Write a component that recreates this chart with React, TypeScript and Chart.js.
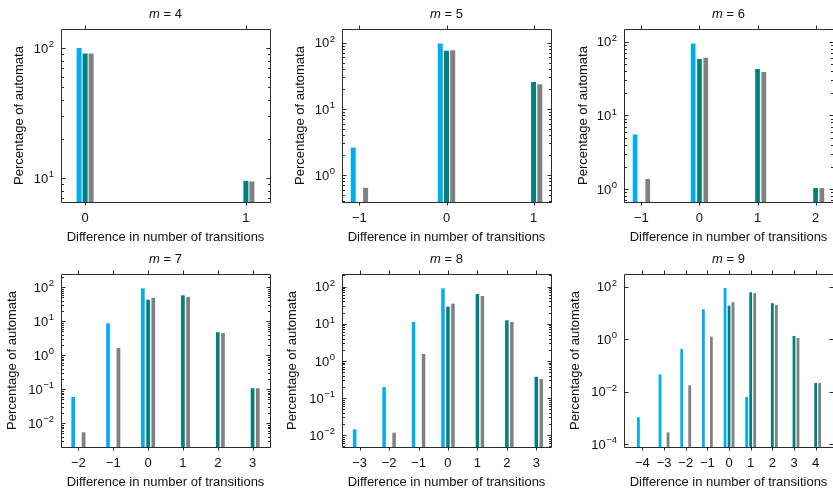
import React, { useEffect, useRef } from 'react';
import { Chart, registerables } from 'chart.js';

Chart.register(...registerables);

const FONT = "'Liberation Sans', Arial, sans-serif";
const CYAN = '#00AEEF';
const TEAL = '#008080';
const GRAY = '#808080';
const FRAME = '#2b2b2b';
const TEXT = '#111111';

// ---------- data (percentage of automata per difference in number of transitions) ----------
const diffs4 = [0, 1];
const cyan4 = [100, null];
const teal4 = [90.5, 9.5];
const gray4 = [90.5, 9.4];

const diffs5 = [-1, 0, 1];
const cyan5 = [2.6, 97.4, null];
const teal5 = [null, 75.5, 25.5];
const gray5 = [0.64, 77, 23.5];

const diffs6 = [-1, 0, 1, 2];
const cyan6 = [5.5, 94.5, null, null];
const teal6 = [null, 58, 42.5, 1.03];
const gray6 = [1.37, 60.5, 38.7, 1.03];

const diffs7 = [-2, -1, 0, 1, 2, 3];
const cyan7 = [0.059, 8.7, 93, null, null, null];
const teal7 = [null, null, 43, 58, 4.75, 0.107];
const gray7 = [0.0054, 1.64, 49.4, 52, 4.5, 0.107];

const diffs8 = [-3, -2, -1, 0, 1, 2, 3];
const cyan8 = [0.0143, 0.197, 11.2, 90, null, null, null];
const teal8 = [null, null, null, 28.9, 63.5, 12.4, 0.374];
const gray8 = [null, 0.0116, 1.53, 34.8, 56.1, 11.2, 0.324];

const diffs9 = [-4, -3, -2, -1, 0, 1, 2, 3, 4];
const cyan9 = [0.00105, 0.0455, 0.42, 13.7, 88, 0.0062, null, null, null];
const teal9 = [null, null, null, null, 18.8, 60.8, 23.3, 1.32, 0.0212];
const gray9 = [null, 0.00028, 0.0173, 1.24, 25.4, 55.7, 20, 1.1, 0.0212];

// y tick exponents (labelled decades)
const yExp4 = [1, 2];
const yExp5 = [0, 1, 2];
const yExp6 = [0, 1, 2];
const yExp7 = [-2, -1, 0, 1, 2];
const yExp8 = [-2, -1, 0, 1, 2];
const yExp9 = [-4, -2, 0, 2];

// ---------- layout ----------
const PW = 209; // plot width
const PH = 173; // plot height
const YAX = 60;
const TOPPAD = 29;
const RIGHTPAD = 20;
const XAX = 45;

type Val = number | null;
interface Panel {
  m: number;
  diffs: number[];
  cyan: Val[];
  teal: Val[];
  gray: Val[];
  yExp: number[];
  minor: boolean;
  xMin: number;
  xMax: number;
  yMin: number;
  yMax: number;
  left: number;
  top: number;
  yTitlePad: number;
  spacing: number;
  barW: number;
}

const panels: Panel[] = [
  { m: 4, diffs: diffs4, cyan: cyan4, teal: teal4, gray: gray4, yExp: yExp4, minor: true,
    xMin: -0.15, xMax: 1.15, yMin: Math.pow(10, 0.815), yMax: Math.pow(10, 2.146),
    left: 61, top: 29, yTitlePad: 10.2, spacing: 6, barW: 5 },
  { m: 5, diffs: diffs5, cyan: cyan5, teal: teal5, gray: gray5, yExp: yExp5, minor: true,
    xMin: -1.2, xMax: 1.2, yMin: Math.pow(10, -0.408), yMax: Math.pow(10, 2.207),
    left: 342, top: 29, yTitlePad: 10.2, spacing: 6.2, barW: 5 },
  { m: 6, diffs: diffs6, cyan: cyan6, teal: teal6, gray: gray6, yExp: yExp6, minor: true,
    xMin: -1.3, xMax: 2.3, yMin: Math.pow(10, -0.176), yMax: Math.pow(10, 2.172),
    left: 624, top: 29, yTitlePad: 12, spacing: 6.3, barW: 4.7 },
  { m: 7, diffs: diffs7, cyan: cyan7, teal: teal7, gray: gray7, yExp: yExp7, minor: true,
    xMin: -2.5, xMax: 3.5, yMin: Math.pow(10, -2.7), yMax: Math.pow(10, 2.39),
    left: 61, top: 274, yTitlePad: 3.2, spacing: 5.2, barW: 3.7 },
  { m: 8, diffs: diffs8, cyan: cyan8, teal: teal8, gray: gray8, yExp: yExp8, minor: true,
    xMin: -3.6, xMax: 3.5, yMin: Math.pow(10, -2.32), yMax: Math.pow(10, 2.34),
    left: 342, top: 274, yTitlePad: 2.2, spacing: 5, barW: 3.5 },
  { m: 9, diffs: diffs9, cyan: cyan9, teal: teal9, gray: gray9, yExp: yExp9, minor: false,
    xMin: -4.85, xMax: 4.8, yMin: Math.pow(10, -4.11), yMax: Math.pow(10, 2.48),
    left: 624, top: 274, yTitlePad: 3.2, spacing: 4, barW: 2.8 },
];

const numLabel = (v: number) => (v < 0 ? '\u2212' + String(-v) : String(v));

const toPoints = (xs: number[], ys: Val[]) =>
  xs.map((x, i) => ({ x, y: ys[i] })).filter((p) => p.y !== null) as { x: number; y: number }[];

const framePlugin = {
  id: 'frame',
  afterDatasetsDraw(chart: any, _args: any, opts: any) {
    const { ctx, chartArea: a } = chart;
    const xs = chart.scales.x;
    const ys = chart.scales.y;
    const px = (v: number) => Math.round(v) + 0.5;
    const L = px(a.left), R = px(a.right), T = px(a.top), B = px(a.bottom);
    ctx.save();
    ctx.strokeStyle = FRAME;
    ctx.lineWidth = 1;
    ctx.beginPath();
    ctx.rect(L, T, R - L, B - T);
    const lo = Math.floor(Math.log10(ys.min));
    const hi = Math.ceil(Math.log10(ys.max));
    for (let e = lo; e <= hi; e++) {
      for (let k = 1; k <= 9; k++) {
        const v = k * Math.pow(10, e);
        if (v < ys.min || v > ys.max) continue;
        let len = 0;
        if (k === 1) {
          if (!opts.yExp.includes(e)) continue;
          len = 4;
        } else {
          if (!opts.minor) continue;
          len = 2.5;
        }
        const y = px(ys.getPixelForValue(v));
        ctx.moveTo(L, y);
        ctx.lineTo(L + len, y);
        ctx.moveTo(R, y);
        ctx.lineTo(R - len, y);
      }
    }
    for (const t of opts.xTicks) {
      const x = px(xs.getPixelForValue(t));
      ctx.moveTo(x, T);
      ctx.lineTo(x, T - 4);
      ctx.moveTo(x, B);
      ctx.lineTo(x, B + 3);
    }
    ctx.stroke();

    // y tick labels: 10 with raised exponent
    const baseFont = `13px ${FONT}`;
    const expFont = `9.5px ${FONT}`;
    ctx.fillStyle = TEXT;
    ctx.textBaseline = 'alphabetic';
    ctx.textAlign = 'left';
    for (const t of ys.ticks) {
      const e = Math.round(Math.log10(t.value));
      const expStr = e < 0 ? '\u2212' + String(-e) : String(e);
      ctx.font = expFont;
      const we = ctx.measureText(expStr).width;
      ctx.font = baseFont;
      const wb = ctx.measureText('10').width;
      const right = a.left - 7;
      const y = ys.getPixelForValue(t.value);
      const xb = right - we - wb - 0.5;
      ctx.fillText('10', xb, y + 4.7);
      ctx.font = expFont;
      ctx.fillText(expStr, xb + wb + 0.5, y - 0.8);
    }

    // title: italic m = N
    const cx = (a.left + a.right) / 2;
    const italic = `italic 13px ${FONT}`;
    const normal = `13px ${FONT}`;
    ctx.font = italic;
    const w1 = ctx.measureText('m').width;
    ctx.font = normal;
    const rest = ' = ' + opts.m;
    const w2 = ctx.measureText(rest).width;
    const x0 = cx - (w1 + w2) / 2;
    ctx.textBaseline = 'middle';
    ctx.textAlign = 'left';
    ctx.font = italic;
    ctx.fillText('m', x0, a.top - 15);
    ctx.font = normal;
    ctx.fillText(rest, x0 + w1, a.top - 15);
    ctx.restore();
  },
};

function PanelChart({ p }: { p: Panel }) {
  const ref = useRef<HTMLCanvasElement | null>(null);
  useEffect(() => {
    if (!ref.current) return;
    const pxPerUnit = PW / (p.xMax - p.xMin);
    const categoryPercentage = (3 * p.spacing) / pxPerUnit;
    const barPercentage = p.barW / p.spacing;
    const common = { categoryPercentage, barPercentage, borderWidth: 0 };
    const chart = new Chart(ref.current, {
      type: 'bar',
      data: {
        datasets: [
          { label: 'cyan', data: toPoints(p.diffs, p.cyan), backgroundColor: CYAN, ...common },
          { label: 'teal', data: toPoints(p.diffs, p.teal), backgroundColor: TEAL, ...common },
          { label: 'gray', data: toPoints(p.diffs, p.gray), backgroundColor: GRAY, ...common },
        ] as any,
      },
      options: {
        responsive: false,
        animation: false,
        events: [],
        color: TEXT,
        font: { family: FONT, size: 13 },
        layout: { padding: { left: 0, top: TOPPAD, right: RIGHTPAD, bottom: 0 } },
        plugins: {
          legend: { display: false },
          tooltip: { enabled: false },
          title: { display: false },
          frame: { m: p.m, yExp: p.yExp, minor: p.minor, xTicks: p.diffs },
        } as any,
        scales: {
          x: {
            type: 'linear',
            min: p.xMin,
            max: p.xMax,
            bounds: 'data',
            offset: false,
            grid: { display: false, drawTicks: false },
            border: { display: false },
            afterBuildTicks: (s: any) => {
              s.ticks = p.diffs.map((v) => ({ value: v }));
            },
            afterFit: (s: any) => {
              s.height = XAX;
            },
            ticks: {
              padding: 8.5,
              autoSkip: false,
              maxRotation: 0,
              color: TEXT,
              font: { family: FONT, size: 13 },
              callback: (v: any) => numLabel(Number(v)),
            },
            title: {
              display: true,
              text: 'Difference in number of transitions',
              color: TEXT,
              font: { family: FONT, size: 13 },
              padding: { top: 0, bottom: 2 },
            },
          },
          y: {
            type: 'logarithmic',
            min: p.yMin,
            max: p.yMax,
            bounds: 'data',
            grid: { display: false, drawTicks: false },
            border: { display: false },
            afterBuildTicks: (s: any) => {
              s.ticks = p.yExp.map((e) => ({ value: Math.pow(10, e) }));
            },
            afterFit: (s: any) => {
              s.width = YAX;
            },
            ticks: { display: false },
            title: {
              display: true,
              text: 'Percentage of automata',
              color: TEXT,
              font: { family: FONT, size: 13 },
              padding: { top: p.yTitlePad, bottom: 0 },
            },
          },
        } as any,
      },
      plugins: [framePlugin as any],
    });
    return () => chart.destroy();
  }, [p]);

  const w = YAX + PW + RIGHTPAD;
  const h = TOPPAD + PH + XAX;
  return (
    <canvas
      ref={ref}
      width={w}
      height={h}
      style={{ position: 'absolute', left: p.left - YAX, top: p.top - TOPPAD, width: w, height: h }}
    />
  );
}

export default function App() {
  return (
    <div
      style={{
        position: 'fixed',
        left: 0,
        top: 0,
        width: 833,
        height: 489,
        overflow: 'hidden',
        background: '#ffffff',
      }}
    >
      {panels.map((p) => (
        <PanelChart key={p.m} p={p} />
      ))}
    </div>
  );
}
